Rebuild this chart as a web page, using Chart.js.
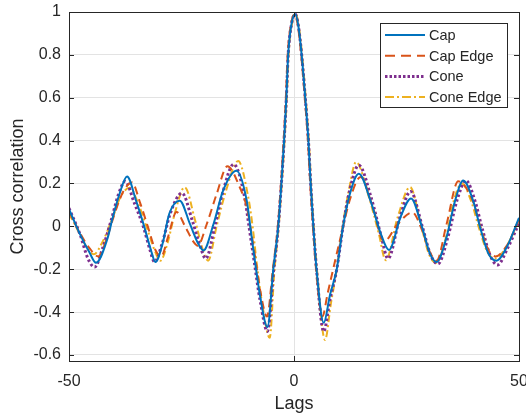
<!DOCTYPE html>
<html>
<head>
<meta charset="utf-8">
<script src="https://cdn.jsdelivr.net/npm/chart.js@4/dist/chart.umd.min.js"></script>
<style>
  html, body { margin: 0; padding: 0; background: #fff; }
  #wrap { width: 526px; height: 417px; }
</style>
</head>
<body>
<div id="wrap"><canvas id="myChart" width="526" height="417"></canvas></div>
<script>
// data (lag, value) - knots at peaks, troughs and crossings
var capLags = [-50,-47.7,-45.5,-44,-41.5,-40.3,-38.8,-37.1,-35.1,-33.3,-31.8,-30.8,-29.2,-27.7,-25.4,-23.1,-21.3,-20.1,-17.9,-15.7,-12.8,-10.5,-9.6,-8.7,-7.5,-5.9,-4.6,-3.5,-2.8,-2.2,-1.7,-1.3,-0.5,0.3,1.0,1.7,2.5,3.2,3.7,4.3,5.0,6.6,8.0,9.5,10.9,12.4,14.4,17.0,19.3,21.1,23.7,26.0,28.4,30.2,31.7,33.9,35.8,37.6,39.8,41.3,43.2,45.0,47.3,50];
var capVals = [0.08,-0.03,-0.12,-0.17,-0.06,0.04,0.15,0.233,0.12,0,-0.11,-0.166,-0.08,0.06,0.12,0.01,-0.08,-0.112,0.01,0.17,0.26,0.12,-0.02,-0.16,-0.33,-0.47,-0.2,0,0.2,0.4,0.6,0.8,0.95,0.99,0.93,0.8,0.6,0.4,0.2,0,-0.2,-0.45,-0.32,-0.2,0,0.15,0.245,0.12,-0.035,-0.11,0.045,0.13,0,-0.127,-0.166,-0.05,0.12,0.214,0.12,0,-0.127,-0.16,-0.096,0.04];

var capEdgeLags = [-50,-47.6,-45.5,-43.5,-41.5,-40,-38,-36,-34.2,-32.5,-30.8,-29.5,-28,-26.1,-24.2,-22.4,-21.4,-19.4,-17.2,-14.8,-12,-10.5,-9.7,-8.8,-7.5,-6,-4.7,-3.6,-2.9,-2.3,-1.8,-1.4,-0.6,0.2,0.9,1.6,2.4,3.1,3.6,4.2,4.9,6.3,7.5,8.7,10.2,12.5,14.8,17.5,20,23,26.3,28.5,30.2,31.7,33.9,36.5,39.7,41.4,43.2,44.8,47.3,50];
var capEdgeVals = [0.07,-0.03,-0.1,-0.14,-0.05,0.05,0.16,0.205,0.11,0,-0.11,-0.14,-0.05,0.067,0,-0.07,-0.09,0.01,0.15,0.28,0.18,0.09,0,-0.12,-0.3,-0.42,-0.2,0,0.2,0.4,0.6,0.8,0.95,0.99,0.93,0.8,0.6,0.4,0.2,0,-0.2,-0.42,-0.31,-0.2,-0.065,0.13,0.23,0.09,-0.07,0.01,0.065,-0.02,-0.12,-0.16,0.01,0.21,0.12,0,-0.11,-0.14,-0.09,0.03];

var coneLags = [-50,-47.5,-45.8,-44.3,-42.5,-40.6,-39,-37.5,-35.5,-33.5,-32,-31,-29.3,-27.5,-24.9,-22.5,-20.9,-19.6,-17.6,-15.8,-13.4,-11,-10,-8.8,-7.5,-5.9,-4.6,-3.5,-2.8,-2.2,-1.7,-1.3,-0.5,0.3,1.0,1.7,2.5,3.2,3.7,4.3,5.0,6.6,8.0,9.5,10.9,12.4,14.4,17.2,19.3,20.9,23.5,25.9,28.5,30.3,32,34.2,36.2,38.2,40.2,41.7,43.5,45.2,47.5,50];
var coneVals = [0.085,-0.04,-0.15,-0.19,-0.1,0.03,0.15,0.21,0.11,0,-0.11,-0.165,-0.08,0.06,0.155,0.02,-0.09,-0.15,0,0.16,0.29,0.14,0,-0.17,-0.35,-0.49,-0.22,0,0.2,0.4,0.6,0.8,0.95,0.99,0.93,0.8,0.6,0.4,0.2,0,-0.2,-0.49,-0.34,-0.2,0,0.17,0.285,0.13,-0.04,-0.15,0.04,0.163,0,-0.13,-0.175,-0.05,0.12,0.214,0.12,0,-0.13,-0.18,-0.1,0.015];

var coneEdgeLags = [-50,-47.5,-46,-44.5,-42.5,-40.3,-38.5,-36.5,-34.5,-32.8,-31,-29.7,-28,-26.5,-24.3,-22,-20.4,-19.1,-17.2,-15.2,-12.4,-10.2,-9.2,-8.3,-7,-5.4,-4.4,-3.4,-2.7,-2.1,-1.6,-1.2,-0.4,0.4,1.1,1.8,2.6,3.3,3.8,4.4,5.1,6.9,8.2,9.5,10.8,12.2,13.8,16.6,18.8,20.4,23,25.8,28.3,30,31.6,33.8,35.5,37.3,39.5,41,43,44.7,47.3,50];
var coneEdgeVals = [0.06,-0.04,-0.1,-0.13,-0.07,0.04,0.14,0.18,0.1,0,-0.11,-0.16,-0.07,0.06,0.183,0.03,-0.1,-0.16,0,0.16,0.305,0.14,0,-0.17,-0.37,-0.52,-0.22,0,0.2,0.4,0.6,0.8,0.95,0.99,0.93,0.8,0.6,0.4,0.2,0,-0.2,-0.53,-0.36,-0.2,0,0.17,0.3,0.14,-0.03,-0.158,0.04,0.183,0,-0.13,-0.17,-0.05,0.12,0.2,0.11,0,-0.12,-0.15,-0.09,0.03];

var seriesNames = ["Cap", "Cap Edge", "Cone", "Cone Edge"];
var xTicks = [-50, 0, 50];
var yTicks = [-0.6, -0.4, -0.2, 0, 0.2, 0.4, 0.6, 0.8, 1];

var textCol = "#262626";
var fontFam = "'Liberation Sans', Arial, sans-serif";

function pts(lags, vals) {
    return lags.map(function (x, i) { return {x: x, y: vals[i]} })
}

// MATLAB-like box, inward ticks and legend
var boxPlugin = {
    id: 'boxPlugin',
    afterDatasetsDraw: function (chart) {
        var ctx = chart.ctx
        var a = chart.chartArea
        var xs = chart.scales.x, ys = chart.scales.y
        ctx.save()
        ctx.strokeStyle = textCol
        ctx.lineWidth = 1
        ctx.setLineDash([])
        ctx.strokeRect(Math.round(a.left) + 0.5, Math.round(a.top) + 0.5, Math.round(a.right - a.left), Math.round(a.bottom - a.top))
        ctx.beginPath()
        yTicks.forEach(function (v) {
            var py = Math.round(ys.getPixelForValue(v)) + 0.5
            ctx.moveTo(a.left, py); ctx.lineTo(a.left + 5, py)
            ctx.moveTo(a.right, py); ctx.lineTo(a.right - 5, py)
        })
        xTicks.forEach(function (v) {
            var px = Math.round(xs.getPixelForValue(v)) + 0.5
            ctx.moveTo(px, a.bottom); ctx.lineTo(px, a.bottom - 5)
            ctx.moveTo(px, a.top); ctx.lineTo(px, a.top + 5)
        })
        ctx.stroke()

        // legend
        var lx = 380, ly = 23, lw = 127, lh = 84
        ctx.fillStyle = "#fff"
        ctx.fillRect(lx, ly, lw, lh)
        ctx.strokeRect(lx + 0.5, ly + 0.5, lw, lh)
        ctx.font = "14.5px " + fontFam
        ctx.textBaseline = "middle"
        chart.data.datasets.forEach(function (ds, i) {
            var y = ly + 12 + i * 20.7
            ctx.strokeStyle = ds.borderColor
            ctx.lineWidth = ds.borderWidth
            ctx.setLineDash(ds.legendDash || [])
            ctx.beginPath()
            ctx.moveTo(lx + 5, y); ctx.lineTo(lx + 45, y)
            ctx.stroke()
            ctx.setLineDash([])
            ctx.fillStyle = textCol
            ctx.fillText(ds.label, lx + 49, y + 1)
        })
        ctx.restore()
    }
}

var canvas = document.getElementById("myChart")
var myChart = new Chart(canvas, {
    type: 'line',
    data: {
        datasets: [{
            label: seriesNames[0],
            data: pts(capLags, capVals),
            borderColor: '#0072BD',
            borderWidth: 2
        },
        {
            label: seriesNames[1],
            data: pts(capEdgeLags, capEdgeVals),
            borderColor: '#D95319',
            borderWidth: 2,
            borderDash: [8, 5],
            legendDash: [10, 6]
        },
        {
            label: seriesNames[2],
            data: pts(coneLags, coneVals),
            borderColor: '#7E2F8E',
            borderWidth: 3,
            borderDash: [2.5, 2.5],
            legendDash: [2.5, 2]
        },
        {
            label: seriesNames[3],
            data: pts(coneEdgeLags, coneEdgeVals),
            borderColor: '#EDB120',
            borderWidth: 2,
            borderDash: [7, 3, 2, 3],
            legendDash: [9, 3, 2, 3]
        }
        ]
    },
    options: {
        responsive: false,
        animation: false,
        devicePixelRatio: 1,
        events: [],
        layout: { padding: { top: 12, right: 7, left: 0, bottom: 0 } },
        elements: {
            point: { radius: 0 },
            line: { cubicInterpolationMode: 'monotone', fill: false }
        },
        plugins: {
            legend: { display: false },
            tooltip: { enabled: false }
        },
        scales: {
            x: {
                type: 'linear',
                min: -50,
                max: 50,
                afterFit: function (s) { s.height = 56; s.paddingLeft = 0; s.paddingRight = 0 },
                afterBuildTicks: function (s) { s.ticks = xTicks.map(function (v) { return {value: v} }) },
                grid: { color: '#e3e3e3', drawTicks: false },
                border: { display: false },
                ticks: {
                    color: textCol,
                    padding: 11,
                    maxRotation: 0,
                    font: { family: fontFam, size: 16 },
                    callback: function (v) { return String(v) }
                },
                title: {
                    display: true,
                    text: 'Lags',
                    color: textCol,
                    font: { family: fontFam, size: 18 },
                    padding: { top: 0, bottom: 2 }
                }
            },
            y: {
                min: -0.628,
                max: 1,
                afterFit: function (s) { s.width = 69; s.paddingTop = 0; s.paddingBottom = 0 },
                afterBuildTicks: function (s) { s.ticks = yTicks.map(function (v) { return {value: v} }) },
                grid: { color: '#e3e3e3', drawTicks: false },
                border: { display: false },
                ticks: {
                    color: textCol,
                    padding: 8,
                    font: { family: fontFam, size: 16 },
                    callback: function (v) { return String(Math.round(v * 10) / 10) }
                },
                title: {
                    display: true,
                    text: 'Cross correlation',
                    color: textCol,
                    font: { family: fontFam, size: 18 },
                    padding: { top: 7, bottom: 0 }
                }
            }
        }
    },
    plugins: [boxPlugin]
});
</script>
</body>
</html>
